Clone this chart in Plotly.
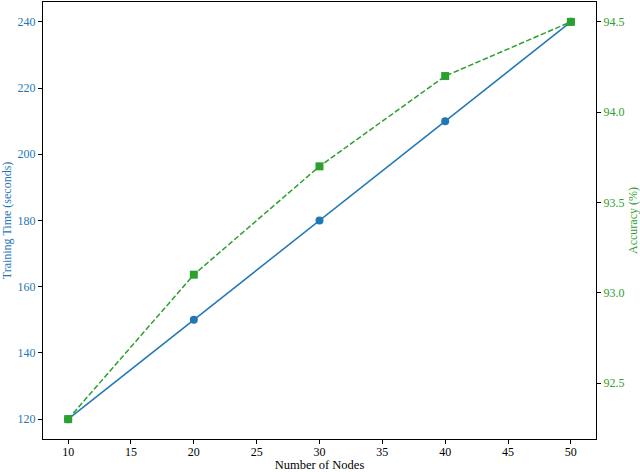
import plotly.graph_objects as go

nodes = [10, 20, 30, 40, 50]
training_time = [120, 150, 180, 210, 240]
accuracy = [92.3, 93.1, 93.7, 94.2, 94.5]

x_ticks = [10, 15, 20, 25, 30, 35, 40, 45, 50]
y1_ticks = [120, 140, 160, 180, 200, 220, 240]
y2_ticks = [92.5, 93.0, 93.5, 94.0, 94.5]

BLUE = "#1f77b4"
GREEN = "#2ca02c"
FONT = "Liberation Serif"

fig = go.Figure()
fig.add_trace(go.Scatter(
    x=nodes, y=training_time, mode="lines+markers",
    line=dict(color=BLUE, width=1.5),
    marker=dict(symbol="circle", size=8, color=BLUE),
    name="Training Time", yaxis="y"))
fig.add_trace(go.Scatter(
    x=nodes, y=accuracy, mode="lines+markers",
    line=dict(color=GREEN, width=1.5, dash="5.5px,2.4px"),
    marker=dict(symbol="square", size=8, color=GREEN),
    name="Accuracy", yaxis="y2"))

axis_common = dict(showgrid=False, zeroline=False, showline=True,
                   linecolor="black", linewidth=1, ticks="outside",
                   ticklen=4, tickcolor="black", automargin=False)

fig.update_layout(
    width=640, height=472,
    margin=dict(l=43, r=44, t=2, b=33),
    paper_bgcolor="white", plot_bgcolor="white",
    showlegend=False,
    font=dict(family=FONT, size=12, color="black"),
    xaxis=dict(range=[8, 52], tickvals=x_ticks,
               mirror=True, ticklabelstandoff=-2,
               title=dict(text="Number of Nodes", font=dict(size=12.5, color="black"), standoff=5),
               tickfont=dict(size=12, color="black"),
               **axis_common),
    yaxis=dict(range=[114, 246], tickvals=y1_ticks,
               title=dict(text="Training Time (seconds)", font=dict(size=12, color=BLUE), standoff=6),
               tickfont=dict(size=12, color=BLUE),
               **axis_common),
    yaxis2=dict(range=[92.19, 94.61], tickvals=y2_ticks,
                ticktext=["92.5", "93.0", "93.5", "94.0", "94.5"],
                overlaying="y", side="right",
                title=dict(text="Accuracy (%)", font=dict(size=12, color=GREEN), standoff=6),
                tickfont=dict(size=12, color=GREEN),
                **axis_common),
)

fig.write_html("out.html", config={"displayModeBar": False},
               post_script="document.body.style.margin='0';document.body.style.overflow='hidden';")
